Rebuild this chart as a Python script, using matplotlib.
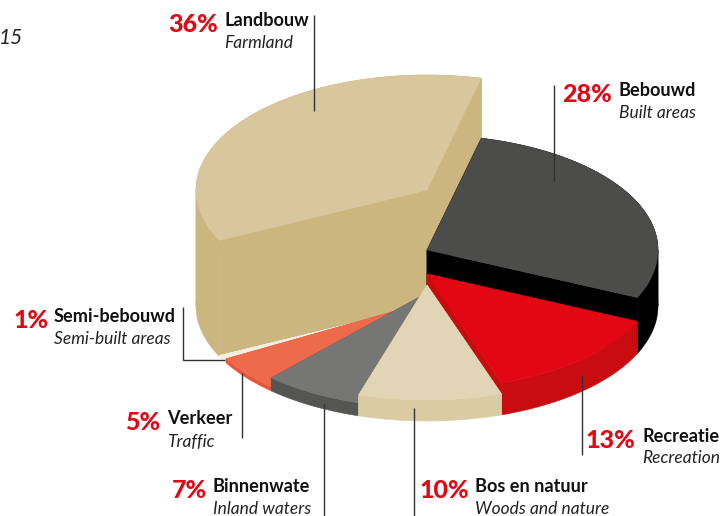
import numpy as np
import matplotlib
matplotlib.use("Agg")
import matplotlib.pyplot as plt
from matplotlib.patches import Polygon

# data (in clockwise-from-back order round the pie)
names_nl = ["Landbouw", "Semi-bebouwd", "Verkeer", "Binnenwate", "Bos en natuur", "Recreatie", "Bebouwd"]
names_en = ["Farmland", "Semi-built areas", "Traffic", "Inland waters", "Woods and nature", "Recreation", "Built areas"]
shares = [36, 1, 5, 7, 10, 13, 28]

# style
top_colors = ["#d8c79c", "#f3eee2", "#ed6a4b", "#767675", "#e1d5b6", "#e30613", "#4c4c4a"]
side_colors = ["#ccb67f", "#f3eee2", "#e9533a", "#555554", "#dbcba2", "#c90c10", "#000000"]
top_y = [190, 305, 302, 293, 285, 274, 250]   # y of each slice's top apex, px
BASE_Y = 306
CX, RX, RY = 427, 231, 115
START = 76.4
draw_order = [0, 6, 5, 1, 2, 3, 4]

label_pos = [  # x of name, y of first line, y of second line
    (224, 21, 43), (54, 316, 339), (167, 419, 442), (213, 486, 509),
    (475, 486, 509), (642, 436, 458), (619, 91, 113)]
pct_right = [218, 49, 160, 207, 469, 635, 612]
leaders = [
    ([314, 314], [15, 111]),
    ([183, 183, 225], [307, 360, 360]),
    ([242, 242], [373, 438]),
    ([324, 324], [404, 516]),
    ([414, 414], [408, 516]),
    ([582, 582], [375, 455]),
    ([554, 554], [85, 181]),
]

fig = plt.figure(figsize=(7.23, 5.16), dpi=100)
ax = fig.add_axes([0, 0, 1, 1])
ax.set_xlim(0, 723)
ax.set_ylim(516, 0)
ax.axis("off")

fracs = np.array(shares, dtype=float) / sum(shares) * 360
edges = START + np.concatenate([[0], np.cumsum(fracs)])


def rim(a0, a1, cy):
    t = np.radians(np.linspace(a0, a1, 120))
    return np.column_stack([CX + RX * np.cos(t), cy - RY * np.sin(t)])


def pieces(a0, a1):
    """Split an arc at the left and right extremes so that each wall is a simple shape."""
    cuts = [a0] + [k * 180.0 for k in range(0, 4) if a0 < k * 180.0 < a1] + [a1]
    return list(zip(cuts[:-1], cuts[1:]))


z = 1
for i in draw_order:
    a0, a1 = edges[i], edges[i + 1]
    cy = top_y[i]
    r_top = rim(a0, a1, cy)
    r_base = rim(a0, a1, BASE_Y)
    # outer wall
    for p0, p1 in pieces(a0, a1):
        ax.add_patch(Polygon(np.vstack([rim(p0, p1, cy), rim(p0, p1, BASE_Y)[::-1]]), closed=True,
                             fc=side_colors[i], ec=side_colors[i], lw=0.4, zorder=z))
    # two cut faces
    for r_t, r_b in ((r_top[0], r_base[0]), (r_top[-1], r_base[-1])):
        face = [(CX, cy), r_t, r_b, (CX, BASE_Y)]
        ax.add_patch(Polygon(face, closed=True, fc=side_colors[i], ec=side_colors[i], lw=0.4, zorder=z))
    # top
    ax.add_patch(Polygon(np.vstack([[(CX, cy)], r_top]), closed=True, fc=top_colors[i],
                         ec=top_colors[i], lw=0.3, zorder=z + 0.5))
    z += 1

for (lx, ly) in leaders:
    ax.plot(lx, ly, color="#333333", lw=1.0, zorder=20, solid_joinstyle="miter", solid_capstyle="butt")

FONT = "Lato"
for i in range(len(shares)):
    x, y1, y2 = label_pos[i]
    ax.text(x, y1, names_nl[i], family=FONT, weight="bold", fontsize=13.1, color="#111111",
            va="center", ha="left", zorder=30)
    ax.text(x, y2, names_en[i], family=FONT, style="italic", fontsize=12.5, color="#222222",
            va="center", ha="left", zorder=30)
    ax.text(pct_right[i], y1 + 4, f"{shares[i]}%", family=FONT, weight="black", fontsize=18,
            color="#e30613", va="center", ha="right", zorder=30)

ax.text(23, 38, "15", family=FONT, style="italic", fontsize=15, color="#222222",
        va="center", ha="right", zorder=30)

fig.savefig("out.png", dpi=100)
